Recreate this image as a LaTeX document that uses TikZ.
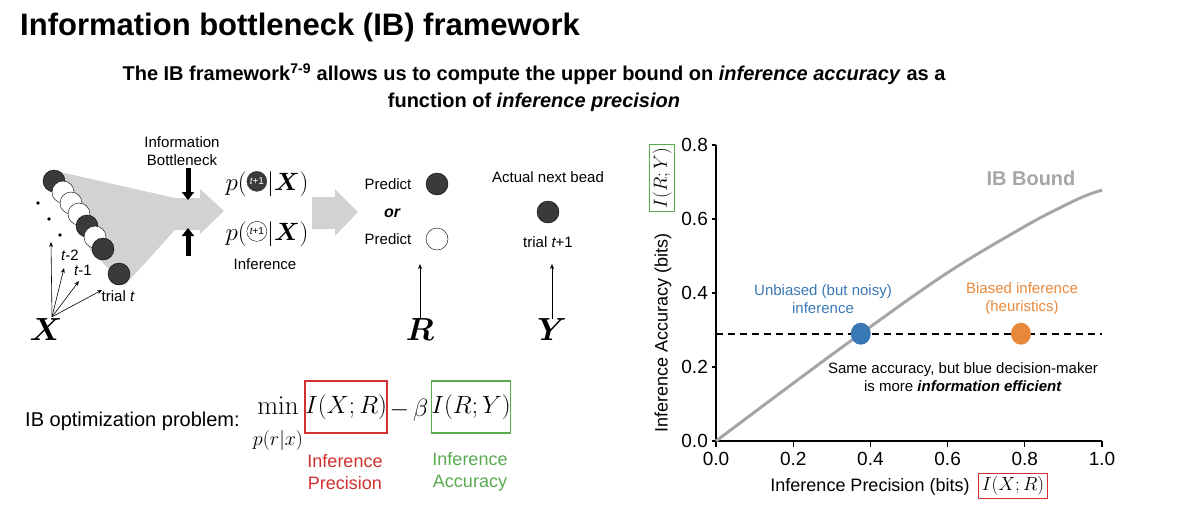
\RequirePackage{fix-cm}
\documentclass[tikz,border=0pt]{standalone}
\usepackage{amsmath}
\usepackage[no-math]{fontspec}
\setmainfont{Liberation Sans}
\usetikzlibrary{arrows.meta}
\definecolor{ibblue}{HTML}{3A78B5}
\definecolor{iborange}{HTML}{E8883A}
\definecolor{ibred}{HTML}{D03030}
\definecolor{ibgreen}{HTML}{5AAA50}
\definecolor{ibgrey}{HTML}{D2D2D2}
\definecolor{ibdark}{HTML}{3A3A3A}
\newcommand{\fs}[1]{\fontsize{#1}{\the\numexpr#1*6/5\relax}\selectfont}
\newcommand{\beadD}{\tikz[baseline=-0.7ex]\node[circle,fill=ibdark,draw=ibdark,inner sep=0pt,minimum size=20pt,text=white,font=\fs{10}]{\itshape t\upshape+1};}
\newcommand{\beadW}{\tikz[baseline=-0.7ex]\node[circle,fill=white,draw=black,inner sep=0pt,minimum size=20pt,font=\fs{10}]{\itshape t\upshape+1};}
\begin{document}
\begin{tikzpicture}[x=1pt,y=-1pt,
  txt/.style={inner sep=0pt,align=center},
  bd/.style={circle,fill=ibdark,draw=black,minimum size=22pt,inner sep=0pt},
  bw/.style={circle,fill=white,draw=black,minimum size=22pt,inner sep=0pt},
  thinarr/.style={-{Stealth[length=5pt,width=4pt]},line width=0.6pt},
  fatarr/.style={-{Triangle[length=8pt,width=12pt]},line width=5pt},
  tick/.style={font=\fs{19}},
  mbox/.style={line width=1.2pt,minimum width=78pt,minimum height=52pt,inner sep=0pt,font=\fs{25}}]
\useasboundingbox (0,0) rectangle (1200,520);
% titles
\node[txt,anchor=west,font=\fs{31}\bfseries] (title) at (20,27) {Information bottleneck (IB) framework};
\node[txt,font=\fs{20}\bfseries] (sub) at (534,88) {The IB framework\textsuperscript{7-9} allows us to compute the upper bound on \textit{inference accuracy} as a\\[3pt] function of \textit{inference precision}};
% grey wedge and arrows
\fill[ibgrey] (60,172) -- (175,198) -- (200,198) -- (200,189) -- (224,211) -- (200,234) -- (200,230) -- (175,230) -- (125,285) -- (90,250) -- cycle;
\fill[ibgrey] (312,197) -- (335,197) -- (335,189) -- (358,212) -- (335,236) -- (335,229) -- (312,229) -- cycle;
% beads
\node[bd] (b1) at (54,181) {};
\node[bw] (b2) at (63,192) {};
\node[bw] (b3) at (71,203) {};
\node[bw] (b4) at (79,214) {};
\node[bd] (b5) at (87,226) {};
\node[bw] (b6) at (95,237) {};
\node[bd] (b7) at (103,249) {};
\node[bd] (b8) at (119,274) {};
\fill (38,203) circle (1.8) (49,219) circle (1.8) (60,235) circle (1.8);
% bottleneck
\node[txt,font=\fs{15}] (ib) at (182,151) {Information\\Bottleneck};
\coordinate (ta) at (188,168); \coordinate (tb) at (188,200);
\coordinate (ua) at (188,256); \coordinate (ub) at (188,228);
\draw[fatarr] (ta) -- (tb);
\draw[fatarr] (ua) -- (ub);
% X
\node[txt,font=\fs{32}] (X) at (46,330) {$\boldsymbol{X}$};
\coordinate (c1) at (51,242); \coordinate (c2) at (64,268);
\coordinate (c3) at (79,281); \coordinate (c4) at (102,290);
\foreach \c in {c1,c2,c3,c4} \draw[thinarr] (X.north)++(6,-2) -- (\c);
\node[txt,font=\fs{15}] (l2) at (70,255) {\itshape t\upshape-2};
\node[txt,font=\fs{15}] (l1) at (83,270) {\itshape t\upshape-1};
\node[txt,font=\fs{15}] (lt) at (118,296) {trial \itshape t};
% inference
\node[txt,font=\fs{25}] (p1) at (267,184) {$p(\mbox{\beadD}|\boldsymbol{X})$};
\node[txt,font=\fs{25}] (p2) at (267,234) {$p(\mbox{\beadW}|\boldsymbol{X})$};
\node[txt,font=\fs{15}] (inf) at (265,264) {Inference};
% predict
\node[txt,font=\fs{15}] (pr1) at (388,184) {Predict};
\node[bd] (rb1) at (437,184) {};
\node[txt,font=\fs{16}\bfseries\itshape] (or) at (392,213) {or};
\node[txt,font=\fs{15}] (pr2) at (388,239) {Predict};
\node[bw] (rb2) at (437,239) {};
\node[txt,font=\fs{32}] (R) at (420,330) {$\boldsymbol{R}$};
\coordinate (ra) at (420,264);
\draw[thinarr] (R.north) -- (ra);
\node[txt,font=\fs{15}] (act) at (548,177) {Actual next bead};
\node[bd] (yb) at (548,212) {};
\node[txt,font=\fs{15}] (tt) at (548,242) {trial \itshape t\upshape+1};
\node[txt,font=\fs{32}] (Y) at (552,330) {$\boldsymbol{Y}$};
\coordinate (ya) at (552,264);
\draw[thinarr] (Y.north) -- (ya);
% optimization
\node[txt,anchor=west,font=\fs{20}] (opt) at (25,421) {IB optimization problem:};
\node[txt,font=\fs{27}] (min) at (278,406) {$\min$};
\node[txt,font=\fs{20}] (pr) at (278,440) {$p(r|x)$};
\node[mbox,draw=ibred] (boxA) at (346,407) {$I(X;R)$};
\node[txt,font=\fs{25}] (mb) at (409,410) {$-\,\beta$};
\node[mbox,draw=ibgreen,minimum width=76pt] (boxB) at (471,407) {$I(R;Y)$};
\node[txt,font=\fs{18},text=ibred] (ip) at (345,472) {Inference\\Precision};
\node[txt,font=\fs{18},text=ibgreen] (ia) at (470,472) {Inference\\Accuracy};
% plot
\begin{scope}[shift={(716,441)},x=386pt,y=370pt]
\coordinate (O) at (0,0);
\coordinate (xe) at (1,0);
\coordinate (ye) at (0,0.8);
\draw[line width=1.6pt] (ye) -- (O) -- (xe);
\foreach \v in {0.0,0.2,0.4,0.6,0.8,1.0}{
  \draw[line width=1.2pt] (\v,0) -- (\v,-0.015);
  \node[tick,anchor=north] at (\v,-0.02) {\v};}
\foreach \v in {0.0,0.2,0.4,0.6,0.8}{
  \draw[line width=1.2pt] (0,\v) -- (-0.01,\v);
  \node[tick,anchor=east] at (-0.012,\v) {\v};}
\draw[line width=3pt,gray!70] plot[smooth,tension=0.6] coordinates {(0,0) (0.2,0.156) (0.375,0.29) (0.6,0.455) (0.8,0.58) (0.9,0.635) (0.96,0.664) (1.0,0.678)};
\draw[line width=2pt,dash pattern=on 7pt off 5pt] (0,0.29) -- (1,0.29);
\fill[ibblue] (0.375,0.29) ellipse (10pt and 11pt);
\fill[iborange] (0.79,0.29) ellipse (10pt and 11pt);
\end{scope}
\node[txt,font=\fs{20}\bfseries,text=gray!70] (ibb) at (1031,178) {IB Bound};
\node[txt,font=\fs{15},text=ibblue] (ub) at (823,299) {Unbiased (but noisy)\\inference};
\node[txt,font=\fs{15},text=iborange] (bi) at (1022,299) {Biased inference\\(heuristics)};
\node[txt,font=\fs{15}] (same) at (963,377) {Same accuracy, but blue decision-maker\\is more \textbf{\textit{information efficient}}};
\node[txt,font=\fs{18}] (xl) at (870,487) {Inference Precision (bits)};
\node[draw=ibred,line width=1.2pt,inner sep=3pt,font=\fs{19}] (xb) at (1013,486) {$I(X;R)$};
\node[txt,font=\fs{18},rotate=90] (yl) at (663,333) {Inference Accuracy (bits)};
\node[draw=ibgreen,line width=1.2pt,inner sep=3pt,font=\fs{19},rotate=90] (yb2) at (662,178) {$I(R;Y)$};
\end{tikzpicture}
\end{document}
